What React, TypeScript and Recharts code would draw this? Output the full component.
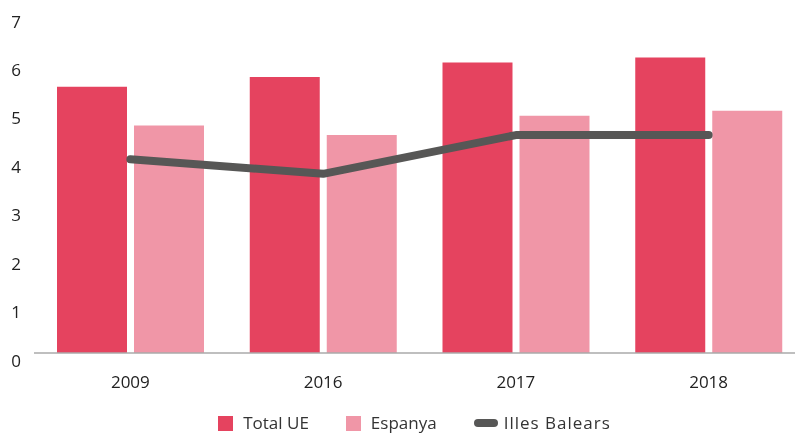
import { Bar, ComposedChart, Legend, Line, XAxis, YAxis } from "recharts";

const YEARS = ["2009", "2016", "2017", "2018"];
const TOTAL_UE = [5.5, 5.7, 6.0, 6.1];
const ESPANYA = [4.7, 4.5, 4.9, 5.0];
const ILLES_BALEARS = [4.0, 3.7, 4.5, 4.5];
const Y_TICKS = [0, 1, 2, 3, 4, 5, 6, 7];

const RED = "#E5435F";
const PINK = "#F096A7";
const GREY = "#575756";
const FONT = "'Open Sans', Lato, sans-serif";

const data = YEARS.map((year, i) => ({
  year,
  totalUE: TOTAL_UE[i],
  espanya: ESPANYA[i],
  illes: ILLES_BALEARS[i],
}));

const YTick = (props: any) => {
  const { y, payload } = props;
  return (
    <text
      x={16}
      y={y + 7}
      textAnchor="middle"
      dominantBaseline="central"
      fontSize={17}
      fontFamily={FONT}
      fill="#222"
    >
      {payload.value}
    </text>
  );
};

const XTick = (props: any) => {
  const { x, y, payload } = props;
  return (
    <text
      x={x}
      y={y + 20}
      textAnchor="middle"
      dominantBaseline="central"
      fontSize={17}
      fontFamily={FONT}
      fill="#222"
    >
      {payload.value}
    </text>
  );
};

const LegendContent = () => {
  const item = { display: "flex", alignItems: "center", marginRight: 37 };
  const label = { fontSize: 17, color: "#333", fontFamily: FONT, lineHeight: "20px" };
  return (
    <div
      style={{
        height: 40,
        display: "flex",
        justifyContent: "center",
        alignItems: "center",
        paddingLeft: 24,
        paddingTop: 20,
        boxSizing: "border-box",
      }}
    >
      <div style={item}>
        <span style={{ width: 15, height: 15, background: RED, marginRight: 10 }} />
        <span style={label}>Total UE</span>
      </div>
      <div style={item}>
        <span style={{ width: 15, height: 15, background: PINK, marginRight: 10 }} />
        <span style={label}>Espanya</span>
      </div>
      <div style={{ ...item, marginRight: 0 }}>
        <span
          style={{ width: 24, height: 8, borderRadius: 4, background: GREY, marginRight: 6 }}
        />
        <span style={{ ...label, letterSpacing: 1 }}>Illes Balears</span>
      </div>
    </div>
  );
};

export default function App() {
  return (
    <div
      style={{
        position: "fixed",
        left: 0,
        top: 0,
        width: 795,
        height: 433,
        overflow: "hidden",
      }}
    >
      <ComposedChart
        width={810}
        height={433}
        data={data}
        margin={{ top: 14, right: 5, left: 0, bottom: 0 }}
        barGap={7}
      >
        <XAxis
          dataKey="year"
          axisLine={{ stroke: "#aaa", strokeWidth: 1.5 }}
          tickLine={false}
          height={40}
          tick={<XTick />}
        />
        <YAxis
          domain={[0, 7]}
          ticks={Y_TICKS}
          width={34}
          axisLine={false}
          tickLine={false}
          tick={<YTick />}
        />
        <Legend verticalAlign="bottom" height={40} content={<LegendContent />} />
        <Bar dataKey="totalUE" name="Total UE" fill={RED} barSize={70} isAnimationActive={false} />
        <Bar dataKey="espanya" name="Espanya" fill={PINK} barSize={70} isAnimationActive={false} />
        <Line
          dataKey="illes"
          name="Illes Balears"
          type="linear"
          stroke={GREY}
          strokeWidth={8}
          strokeLinecap="round"
          strokeLinejoin="round"
          dot={false}
          activeDot={false}
          isAnimationActive={false}
        />
      </ComposedChart>
    </div>
  );
}
